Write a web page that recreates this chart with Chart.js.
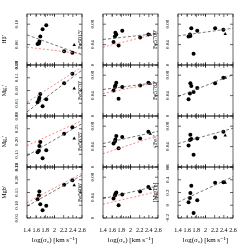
<!DOCTYPE html>
<html>
<head>
<meta charset="utf-8">
<script src="https://cdn.jsdelivr.net/npm/chart.js@4/dist/chart.umd.min.js"></script>
<style>
  html, body { margin: 0; padding: 0; background: #fff; width: 248px; height: 248px; overflow: hidden; }
  canvas { position: absolute; }
</style>
</head>
<body>
<script>
// log(sigma0) of the galaxies (circles) and the triangle object
const logSigma = [1.63, 1.66, 1.67, 1.69, 1.74, 1.82, 2.21, 2.39];
const logSigmaTri = 2.43;
const xTicks = [1.4, 1.6, 1.8, 2, 2.2, 2.4, 2.6];
const sigmaMinor = [30, 40, 50, 60, 70, 80, 90, 100, 200, 300];

// panel labels, row by row
const panelNames = ["Hβ'", "Fe5015'", "Fe5709'", "Mg₁'", "Fe5270'", "Fe5782'",
                    "Mg₂'", "Fe5335'", "<Fe>'", "Mgb'", "Fe5406'", "[Mg/Fe]"];

// index values per panel (circles)
const hbeta  = [0.061, 0.062, 0.066, 0.076, 0.090, 0.098, 0.047, 0.044];
const fe5015 = [0.045, 0.056, 0.063, 0.060, 0.038, 0.067, 0.054, 0.060];
const fe5709 = [0.056, 0.060, 0.057, 0.072, 0.022, 0.067, 0.072, 0.069];
const mg1    = [0.054, 0.064, 0.072, 0.086, 0.038, 0.066, 0.128, 0.166];
const fe5270 = [0.050, 0.057, 0.060, 0.065, 0.034, 0.057, 0.060, 0.065];
const fe5782 = [0.033, 0.044, 0.064, 0.059, 0.047, 0.055, 0.064, 0.075];
const mg2    = [0.158, 0.164, 0.182, 0.198, 0.134, 0.166, 0.230, 0.256];
const fe5335 = [0.046, 0.050, 0.054, 0.061, 0.037, 0.059, 0.056, 0.069];
const feMean = [0.042, 0.053, 0.063, 0.055, 0.024, 0.056, 0.058, 0.069];
const mgb    = [0.124, 0.138, 0.154, 0.104, 0.080, 0.098, 0.180, 0.198];
const fe5406 = [0.038, 0.044, 0.047, 0.050, 0.025, 0.046, 0.052, 0.061];
const mgfe   = [0.048, 0.112, 0.192, 0.304, -0.12, 0.080, 0.352, 0.360];

// triangle values per panel
const triValues = [0.059, 0.059, 0.061, 0.108, 0.063, 0.075, 0.212, 0.065, 0.062, 0.178, 0.057, 0.352];

// fit lines: value at log(sigma)=1.4 and 2.6
const fitBlack = [[0.079, 0.040], [0.050, 0.062], [0.057, 0.072], [0.016, 0.180], [0.052, 0.066], [0.038, 0.081],
                  [0.144, 0.270], [0.046, 0.070], [0.046, 0.076], [0.096, 0.218], [0.038, 0.063], [0.048, 0.448]];
const fitRed   = [[0.055, 0.042], [0.035, 0.062], null, [0.054, 0.192], [0.044, 0.066], null,
                  [0.184, 0.282], [0.026, 0.062], null, [0.110, 0.226], [0.027, 0.052], null];

// y ranges [min, max, step]
const yRanges = [[0.02, 0.12, 0.02], [0, 0.1, 0.02], [0, 0.1, 0.02], [0, 0.2, 0.05], [0, 0.1, 0.02], [0, 0.1, 0.02],
                 [0.1, 0.3, 0.05], [0, 0.1, 0.02], [0, 0.1, 0.02], [0.05, 0.25, 0.05], [0, 0.1, 0.02], [-0.2, 0.6, 0.2]];

const panelValues = [hbeta, fe5015, fe5709, mg1, fe5270, fe5782, mg2, fe5335, feMean, mgb, fe5406, mgfe];

const colX = [27, 103, 178];
const rowY = [14, 65, 116, 167];
const plotW = 55, plotH = 51, yAxisW = 26;
const FONT = "'Liberation Serif', 'DejaVu Serif', serif";

const framePlugin = {
  id: 'frame',
  afterDatasetsDraw(chart) {
    const { ctx, chartArea: a, scales: { x, y } } = chart;
    ctx.save();
    ctx.strokeStyle = '#000';
    ctx.lineWidth = 0.6;
    ctx.strokeRect(a.left, a.top, a.right - a.left, a.bottom - a.top);
    ctx.beginPath();
    xTicks.forEach(v => {
      const px = x.getPixelForValue(v);
      ctx.moveTo(px, a.bottom); ctx.lineTo(px, a.bottom - 3);
      ctx.moveTo(px, a.top); ctx.lineTo(px, a.top + 3);
    });
    sigmaMinor.forEach(s => {
      const px = x.getPixelForValue(Math.log10(s));
      ctx.moveTo(px, a.bottom); ctx.lineTo(px, a.bottom - 2);
      ctx.moveTo(px, a.top); ctx.lineTo(px, a.top + 2);
    });
    y.ticks.forEach(t => {
      const py = y.getPixelForValue(t.value);
      ctx.moveTo(a.left, py); ctx.lineTo(a.left + 3, py);
      ctx.moveTo(a.right, py); ctx.lineTo(a.right - 3, py);
    });
    ctx.stroke();
    ctx.restore();
  }
};

function lineData(f) {
  return [{ x: 1.4, y: f[0] }, { x: 2.6, y: f[1] }];
}

panelValues.forEach((vals, i) => {
  const r = Math.floor(i / 3), c = i % 3;
  const bottom = r === 3;
  const padTop = 4, padRight = 5, xAxisH = bottom ? 27 : 4;
  const cv = document.createElement('canvas');
  cv.width = yAxisW + plotW + padRight;
  cv.height = padTop + plotH + xAxisH;
  cv.style.left = (colX[c] - yAxisW) + 'px';
  cv.style.top = (rowY[r] - padTop) + 'px';
  document.body.appendChild(cv);

  const datasets = [
    {
      type: 'line', data: lineData(fitBlack[i]), borderColor: '#555', borderWidth: 0.8,
      borderDash: [3, 2], pointRadius: 0, fill: false
    }
  ];
  if (fitRed[i]) {
    datasets.push({
      type: 'line', data: lineData(fitRed[i]), borderColor: '#f26b6b', borderWidth: 0.8,
      borderDash: [2, 2], pointRadius: 0, fill: false
    });
  }
  datasets.push({
    type: 'scatter', data: logSigma.map((s, k) => ({ x: s, y: vals[k] })),
    pointStyle: 'circle', pointRadius: 2.0, backgroundColor: '#000', borderColor: '#000', borderWidth: 0
  });
  datasets.push({
    type: 'scatter', data: [{ x: logSigmaTri, y: triValues[i] }],
    pointStyle: 'triangle', pointRadius: 2.0, backgroundColor: '#000', borderColor: '#000', borderWidth: 0
  });

  const yr = yRanges[i];
  new Chart(cv, {
    type: 'scatter',
    data: { datasets },
    plugins: [framePlugin],
    options: {
      responsive: false, animation: false, devicePixelRatio: 1,
      layout: { padding: { top: padTop, right: padRight, left: 0, bottom: 0 } },
      plugins: { legend: { display: false }, tooltip: { enabled: false } },
      scales: {
        x: {
          type: 'linear', min: 1.4, max: 2.6,
          grid: { display: false }, border: { display: false },
          afterBuildTicks: s => { s.ticks = xTicks.map(v => ({ value: v })); },
          ticks: { display: bottom, autoSkip: false, maxRotation: 0, padding: 1, color: '#000',
                   font: { family: FONT, size: 6 }, callback: v => String(v) },
          title: { display: bottom, text: 'log(σ₀) [km s⁻¹]', color: '#000', padding: 1,
                   font: { family: FONT, size: 7 } },
          afterFit: s => { s.height = xAxisH; }
        },
        y: {
          type: 'linear', min: yr[0], max: yr[1],
          grid: { display: false }, border: { display: false },
          ticks: { stepSize: yr[2], minRotation: 90, maxRotation: 90, crossAlign: 'center', padding: -2,
                   color: '#000', font: { family: FONT, size: 5 } },
          title: { display: true, text: panelNames[i], color: '#000', padding: 0,
                   font: { family: FONT, size: 6 } },
          afterFit: s => { s.width = yAxisW; }
        }
      }
    }
  });
});
</script>
</body>
</html>
